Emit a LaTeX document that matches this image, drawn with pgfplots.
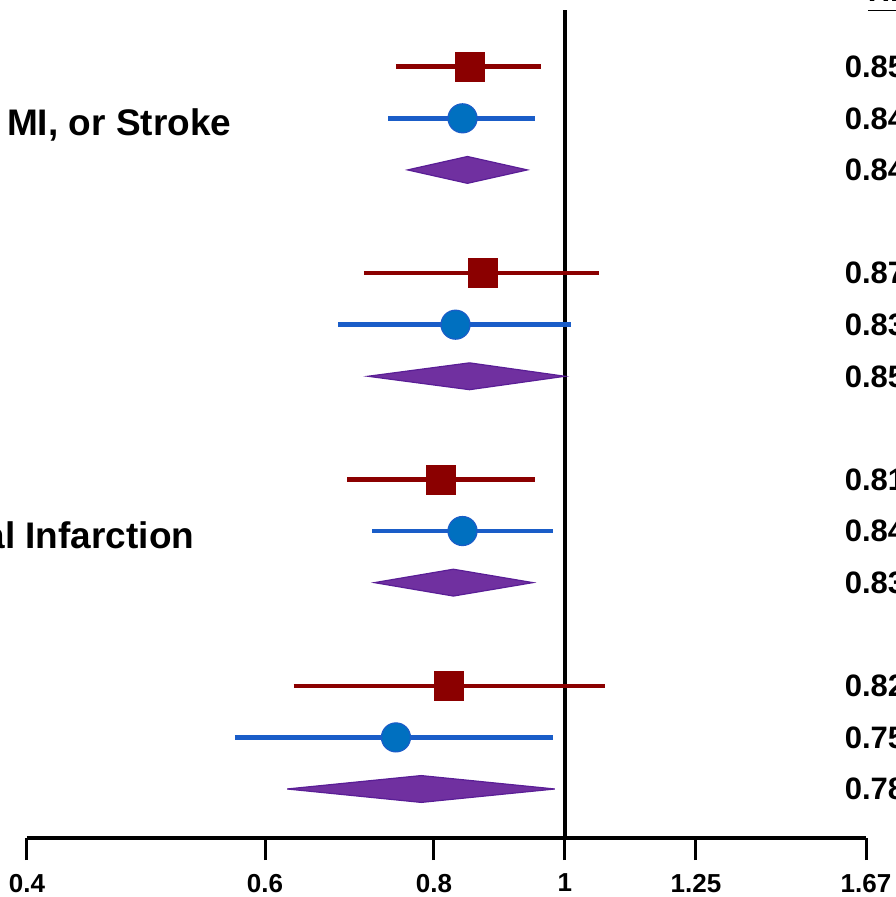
\documentclass[border=0pt]{standalone}
\usepackage{fontspec}
\setmainfont{Liberation Sans}
\usepackage{pgfplots}
\pgfplotsset{compat=1.18}

\definecolor{hrRed}{HTML}{8B0000}
\definecolor{ciBlue}{HTML}{1A5DC8}
\definecolor{dotBlue}{HTML}{0070C0}
\definecolor{dmFill}{HTML}{7030A0}
\definecolor{dmEdge}{HTML}{5A1E96}

\begin{document}
\begin{tikzpicture}
\begin{axis}[
    at={(0,0)}, anchor=south west,
    scale only axis, width=419.5pt, height=414pt,
    xmode=log, xmin=0.4, xmax=1.67, ymin=0.05, ymax=16.1,
    axis x line*=bottom, axis y line=none,
    axis line style={line width=2pt, -},
    xtick={0.4,0.6,0.8,1,1.25,1.67},
    xticklabels={0.4,0.6,0.8,1,1.25,1.67},
    xminorticks=false,
    tick align=outside, major tick length=11pt,
    every tick/.style={black, line width=1.5pt},
    xticklabel style={font=\fontsize{13}{16}\selectfont\bfseries, yshift=-3.5pt},
    unbounded coords=jump,
    clip=false,
]
% reference line at HR = 1
\addplot[black, line width=1.75pt] coordinates {(1,0.05) (1,16.1)};

% confidence intervals
\addplot[hrRed, line width=2.3pt] coordinates {
    (0.75,15) (0.96,15) (nan,nan)
    (0.71,11) (1.06,11) (nan,nan)
    (0.69,7) (0.95,7) (nan,nan)
    (0.63,3) (1.07,3)
};
\addplot[ciBlue, line width=2.4pt] coordinates {
    (0.74,14) (0.95,14) (nan,nan)
    (0.68,10) (1.01,10) (nan,nan)
    (0.72,6) (0.98,6) (nan,nan)
    (0.57,2) (0.98,2)
};

% point estimates
\addplot[only marks, mark=square*, mark size=7.25pt, mark options={fill=hrRed, draw=hrRed}]
    coordinates {(0.85,15) (0.87,11) (0.81,7) (0.82,3)};
\addplot[only marks, mark=*, mark size=7.25pt, mark options={fill=dotBlue, draw=ciBlue, line width=0.6pt}]
    coordinates {(0.84,14) (0.83,10) (0.84,6) (0.75,2)};

% pooled estimates
\addplot[fill=dmFill, draw=dmEdge, line width=0.6pt] coordinates {(0.765,13) (0.847,13.26) (0.938,13) (0.847,12.74)} --cycle;
\addplot[fill=dmFill, draw=dmEdge, line width=0.6pt] coordinates {(0.715,9) (0.85,9.26) (1.0,9) (0.85,8.74)} --cycle;
\addplot[fill=dmFill, draw=dmEdge, line width=0.6pt] coordinates {(0.723,5) (0.827,5.26) (0.947,5) (0.827,4.74)} --cycle;
\addplot[fill=dmFill, draw=dmEdge, line width=0.6pt] coordinates {(0.623,1) (0.783,1.26) (0.983,1) (0.783,0.74)} --cycle;

% outcome labels
\begin{scope}[every node/.style={anchor=base west, inner sep=0pt, font=\fontsize{18.5}{22}\selectfont\bfseries}]
\node at (axis cs:0.2820,13.67) {CV Death, MI, or Stroke};
\node at (axis cs:0.2820,9.67) {CV Death};
\node at (axis cs:0.2820,5.67) {Myocardial Infarction};
\node at (axis cs:0.2820,1.67) {Stroke};
\end{scope}

% HR column
\begin{scope}[every node/.style={anchor=base west, inner sep=0pt, font=\fontsize{15.5}{18}\selectfont\bfseries}]
\node at (axis cs:1.674,16.27) {\underline{HR (95\% CI)}};
\node at (axis cs:1.610,14.79) {0.85 (0.75-0.96)};
\node at (axis cs:1.610,13.79) {0.84 (0.74-0.95)};
\node at (axis cs:1.610,12.79) {0.84 (0.76-0.94)};
\node at (axis cs:1.610,10.79) {0.87 (0.71-1.06)};
\node at (axis cs:1.610,9.79) {0.83 (0.68-1.01)};
\node at (axis cs:1.610,8.79) {0.85 (0.72-1.00)};
\node at (axis cs:1.610,6.79) {0.81 (0.69-0.95)};
\node at (axis cs:1.610,5.79) {0.84 (0.72-0.98)};
\node at (axis cs:1.610,4.79) {0.83 (0.72-0.95)};
\node at (axis cs:1.610,2.79) {0.82 (0.63-1.07)};
\node at (axis cs:1.610,1.79) {0.75 (0.57-0.98)};
\node at (axis cs:1.610,0.79) {0.78 (0.62-0.98)};
\end{scope}
\end{axis}
\pgfresetboundingbox
\useasboundingbox (-13.5pt,-29.5pt) rectangle (434pt,419pt);
\end{tikzpicture}
\end{document}
